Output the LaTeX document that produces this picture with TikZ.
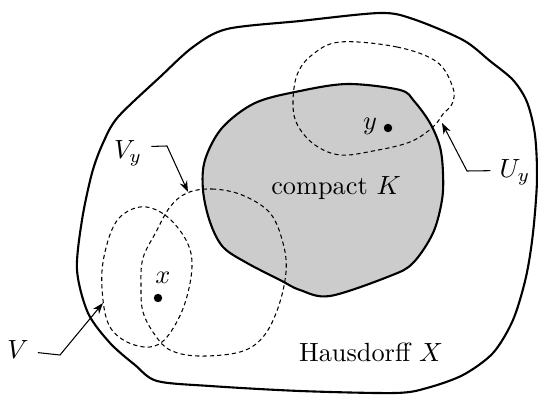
\documentclass[tikz,border=0pt]{standalone}
\usetikzlibrary{arrows.meta}

\tikzset{
  region/.style={line width=0.8pt, line join=round},
  nbhd/.style={line width=0.4pt, dash pattern=on 1.6pt off 1.2pt},
  pointer/.style={line width=0.4pt, -{Stealth[length=4.2pt, width=3pt]}},
  dot/.style={circle, fill=black, inner sep=0pt, minimum size=3.2pt}
}

\begin{document}
\begin{tikzpicture}[x=0.38pt, y=-0.38pt]
\useasboundingbox (0,0) rectangle (538,395);

%HAUSDORFF SPACE
\draw[region] plot[smooth cycle, tension=0.5] coordinates {(227,29) (300,21) (380,13) (413,19) (463,40) (490,61) (513,80) (527,102) (535,135) (537,180) (533,233) (526,277) (513,320) (493,353) (463,375) (427,388) (395,393) (300,391) (210,386) (157,381) (135,365) (110,343) (88,313) (77,270) (82,220) (92,173) (103,143) (118,117) (160,77) (193,47)};

%COMPACT SET
\filldraw[region, fill=gray!40, draw=black] plot[smooth cycle, tension=0.55] coordinates {(205,160) (222,128) (255,103) (300,91) (348,84) (400,90) (414,101) (430,123) (440,147) (443,173) (442,200) (433,233) (413,263) (390,276) (330,296) (300,290) (280,280) (247,263) (223,247) (210,222) (203,190)};

%NEIGHBOURHOODS
\draw[nbhd] plot[smooth cycle, tension=0.6] coordinates {(340,42) (397,47) (437,62) (453,88) (452,104) (443,114) (433,127) (410,142) (373,151) (340,155) (315,145) (298,126) (293,105) (297,75) (312,55)};
\draw[nbhd] plot[smooth cycle, tension=0.6] coordinates {(187,193) (212,189) (242,195) (270,213) (283,243) (286,272) (278,308) (263,337) (240,352) (198,356) (170,350) (155,335) (143,312) (141,285) (143,258) (156,232) (170,207)};
\draw[nbhd] plot[smooth cycle, tension=0.6] coordinates {(140,207) (165,215) (186,240) (192,267) (184,306) (167,337) (150,347) (127,342) (110,327) (103,300) (103,262) (116,222)};

%POINTS
\node[dot] (y) at (388,128) {};
\node (ly) at (370,126) {$y$};
\node[dot] (x) at (158,298) {};
\node (lx) at (163,278) {$x$};

%LABELS
\node (lK) at (336,188) {compact $K$};
\node (lX) at (371,352) {Hausdorff $X$};
\node (lVy) at (128,153) {$V_y$};
\node (lV) at (18,350) {$V$};
\node (lUy) at (515,172) {$U_y$};

\coordinate (vyk) at (167,146);
\coordinate (vytip) at (188,192);
\coordinate (vk) at (60,355);
\coordinate (vtip) at (103,303);
\coordinate (uyk) at (467,171);
\coordinate (uytip) at (442,123);

\draw[pointer] ([yshift=2.5pt]lVy.east) -- (vyk) -- (vytip);
\draw[pointer] ([yshift=-1pt]lV.east) -- (vk) -- (vtip);
\draw[pointer] ([yshift=0.5pt]lUy.west) -- (uyk) -- (uytip);

\end{tikzpicture}
\end{document}
